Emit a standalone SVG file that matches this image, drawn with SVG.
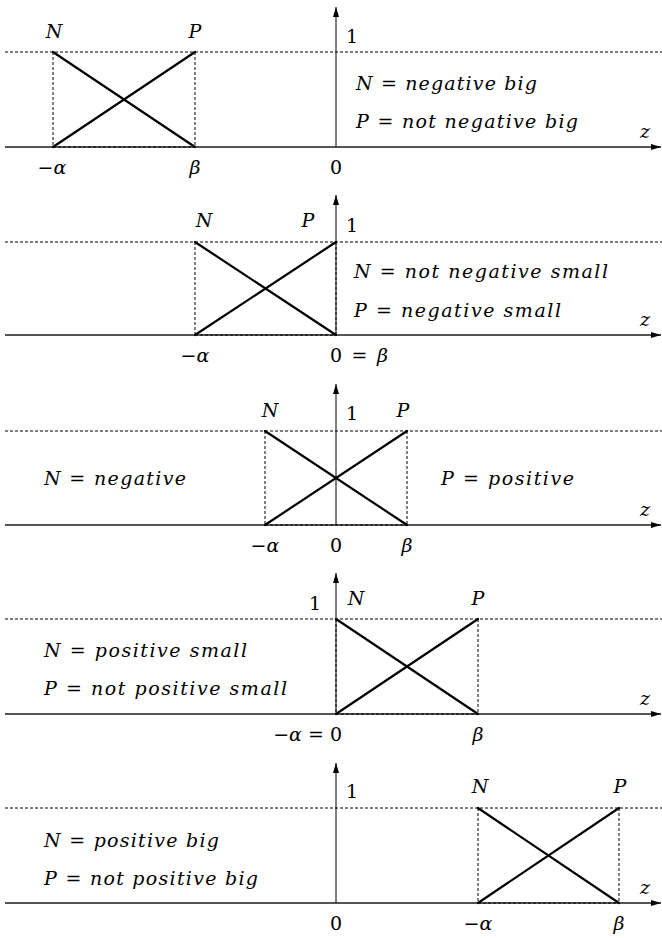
<svg xmlns="http://www.w3.org/2000/svg" width="662" height="938" viewBox="0 0 662 938">
<style>
.bg{fill:#fff}
.ax{stroke:#555;stroke-width:2;fill:none}
.vax{stroke:#000;stroke-width:1;fill:none}
.dot{stroke:#000;stroke-width:1;stroke-dasharray:3 2;fill:none}
.mf{stroke:#000;stroke-width:2.2;fill:none;stroke-linecap:round}
.t{font-family:"DejaVu Serif","Liberation Serif",serif;font-size:19px;fill:#000}
.i{font-style:italic}
.u{font-style:normal}
.m{text-anchor:middle}
.e{text-anchor:end}
</style>
<defs>
<marker id="ah" viewBox="0 0 10 6" refX="10" refY="3" markerWidth="10" markerHeight="6" orient="auto" markerUnits="userSpaceOnUse">
<path d="M0,0 L10,3 L0,6 z" fill="#000"/>
</marker>
</defs>
<rect class="bg" x="0" y="0" width="662" height="938"/>

<!-- Panel 1 -->
<g id="panel1">
<g id="p1-axes">
<line class="ax" x1="5" y1="147" x2="661" y2="147" marker-end="url(#ah)"/>
<line class="vax" x1="336" y1="147" x2="336" y2="7" marker-end="url(#ah)"/>
<line class="dot" x1="5" y1="52" x2="662" y2="52"/>
</g>
<g id="p1-sets">
<path class="dot" d="M53,52 V147 M195,52 V147 M53,147 H195"/>
<line class="mf" x1="53" y1="52" x2="195" y2="147"/>
<line class="mf" x1="53" y1="147" x2="195" y2="52"/>
</g>
<text class="t i m" x="54" y="38">N</text>
<text class="t i m" x="195" y="38">P</text>
<text class="t u" x="346" y="43">1</text>
<text class="t" x="356" y="90" textLength="181" lengthAdjust="spacing"><tspan class="i">N</tspan> = <tspan class="i">negative big</tspan></text>
<text class="t" x="356" y="128" textLength="222" lengthAdjust="spacing"><tspan class="i">P</tspan> = <tspan class="i">not negative big</tspan></text>
<text class="t i m" x="645" y="138">z</text>
<text class="t m" x="52" y="174">−<tspan class="i">α</tspan></text>
<text class="t i m" x="195" y="174">β</text>
<text class="t m" x="336" y="174">0</text>
</g>

<!-- Panel 2 -->
<g id="panel2">
<g id="p2-axes">
<line class="ax" x1="5" y1="335" x2="661" y2="335" marker-end="url(#ah)"/>
<line class="vax" x1="336" y1="335" x2="336" y2="195" marker-end="url(#ah)"/>
<line class="dot" x1="5" y1="242" x2="662" y2="242"/>
</g>
<g id="p2-sets">
<path class="dot" d="M195,242 V335 M336,242 V335 M195,335 H336"/>
<line class="mf" x1="195" y1="242" x2="336" y2="335"/>
<line class="mf" x1="195" y1="335" x2="336" y2="242"/>
</g>
<text class="t i m" x="204" y="227">N</text>
<text class="t i m" x="308" y="227">P</text>
<text class="t u" x="346" y="232">1</text>
<text class="t" x="354" y="278" textLength="254" lengthAdjust="spacing"><tspan class="i">N</tspan> = <tspan class="i">not negative small</tspan></text>
<text class="t" x="354" y="317" textLength="207" lengthAdjust="spacing"><tspan class="i">P</tspan> = <tspan class="i">negative small</tspan></text>
<text class="t i m" x="645" y="326">z</text>
<text class="t m" x="195" y="362">−<tspan class="i">α</tspan></text>
<text class="t" x="330" y="362" textLength="58" lengthAdjust="spacing">0 = <tspan class="i">β</tspan></text>
</g>

<!-- Panel 3 -->
<g id="panel3">
<g id="p3-axes">
<line class="ax" x1="5" y1="525" x2="661" y2="525" marker-end="url(#ah)"/>
<line class="vax" x1="336" y1="525" x2="336" y2="384" marker-end="url(#ah)"/>
<line class="dot" x1="5" y1="431" x2="662" y2="431"/>
</g>
<g id="p3-sets">
<path class="dot" d="M265,431 V525 M407,431 V525 M265,525 H407"/>
<line class="mf" x1="265" y1="431" x2="407" y2="525"/>
<line class="mf" x1="265" y1="525" x2="407" y2="431"/>
</g>
<text class="t i m" x="270" y="417">N</text>
<text class="t u" x="346" y="420">1</text>
<text class="t i m" x="403" y="417">P</text>
<text class="t" x="44" y="485" textLength="142" lengthAdjust="spacing"><tspan class="i">N</tspan> = <tspan class="i">negative</tspan></text>
<text class="t" x="441" y="485" textLength="133" lengthAdjust="spacing"><tspan class="i">P</tspan> = <tspan class="i">positive</tspan></text>
<text class="t i m" x="645" y="516">z</text>
<text class="t m" x="265" y="552">−<tspan class="i">α</tspan></text>
<text class="t m" x="336" y="552">0</text>
<text class="t i m" x="407" y="552">β</text>
</g>

<!-- Panel 4 -->
<g id="panel4">
<g id="p4-axes">
<line class="ax" x1="5" y1="714" x2="661" y2="714" marker-end="url(#ah)"/>
<line class="vax" x1="336" y1="714" x2="336" y2="573" marker-end="url(#ah)"/>
<line class="dot" x1="5" y1="619" x2="662" y2="619"/>
</g>
<g id="p4-sets">
<path class="dot" d="M336,619 V714 M478,619 V714 M336,714 H478"/>
<line class="mf" x1="336" y1="619" x2="478" y2="714"/>
<line class="mf" x1="336" y1="714" x2="478" y2="619"/>
</g>
<text class="t u m" x="315" y="610">1</text>
<text class="t i m" x="356" y="605">N</text>
<text class="t i m" x="478" y="605">P</text>
<text class="t" x="44" y="657" textLength="203" lengthAdjust="spacing"><tspan class="i">N</tspan> = <tspan class="i">positive small</tspan></text>
<text class="t" x="44" y="695" textLength="243" lengthAdjust="spacing"><tspan class="i">P</tspan> = <tspan class="i">not positive small</tspan></text>
<text class="t i m" x="645" y="705">z</text>
<text class="t e" x="342" y="741">−<tspan class="i">α</tspan> = 0</text>
<text class="t i m" x="478" y="741">β</text>
</g>

<!-- Panel 5 -->
<g id="panel5">
<g id="p5-axes">
<line class="ax" x1="5" y1="903" x2="661" y2="903" marker-end="url(#ah)"/>
<line class="vax" x1="336" y1="903" x2="336" y2="763" marker-end="url(#ah)"/>
<line class="dot" x1="5" y1="808" x2="662" y2="808"/>
</g>
<g id="p5-sets">
<path class="dot" d="M478,808 V903 M619,808 V903 M478,903 H619"/>
<line class="mf" x1="478" y1="808" x2="619" y2="903"/>
<line class="mf" x1="478" y1="903" x2="619" y2="808"/>
</g>
<text class="t u" x="346" y="798">1</text>
<text class="t i m" x="480" y="793">N</text>
<text class="t i m" x="620" y="793">P</text>
<text class="t" x="44" y="847" textLength="175" lengthAdjust="spacing"><tspan class="i">N</tspan> = <tspan class="i">positive big</tspan></text>
<text class="t" x="44" y="885" textLength="214" lengthAdjust="spacing"><tspan class="i">P</tspan> = <tspan class="i">not positive big</tspan></text>
<text class="t i m" x="645" y="894">z</text>
<text class="t m" x="336" y="930">0</text>
<text class="t m" x="478" y="930">−<tspan class="i">α</tspan></text>
<text class="t i m" x="619" y="930">β</text>
</g>
</svg>
